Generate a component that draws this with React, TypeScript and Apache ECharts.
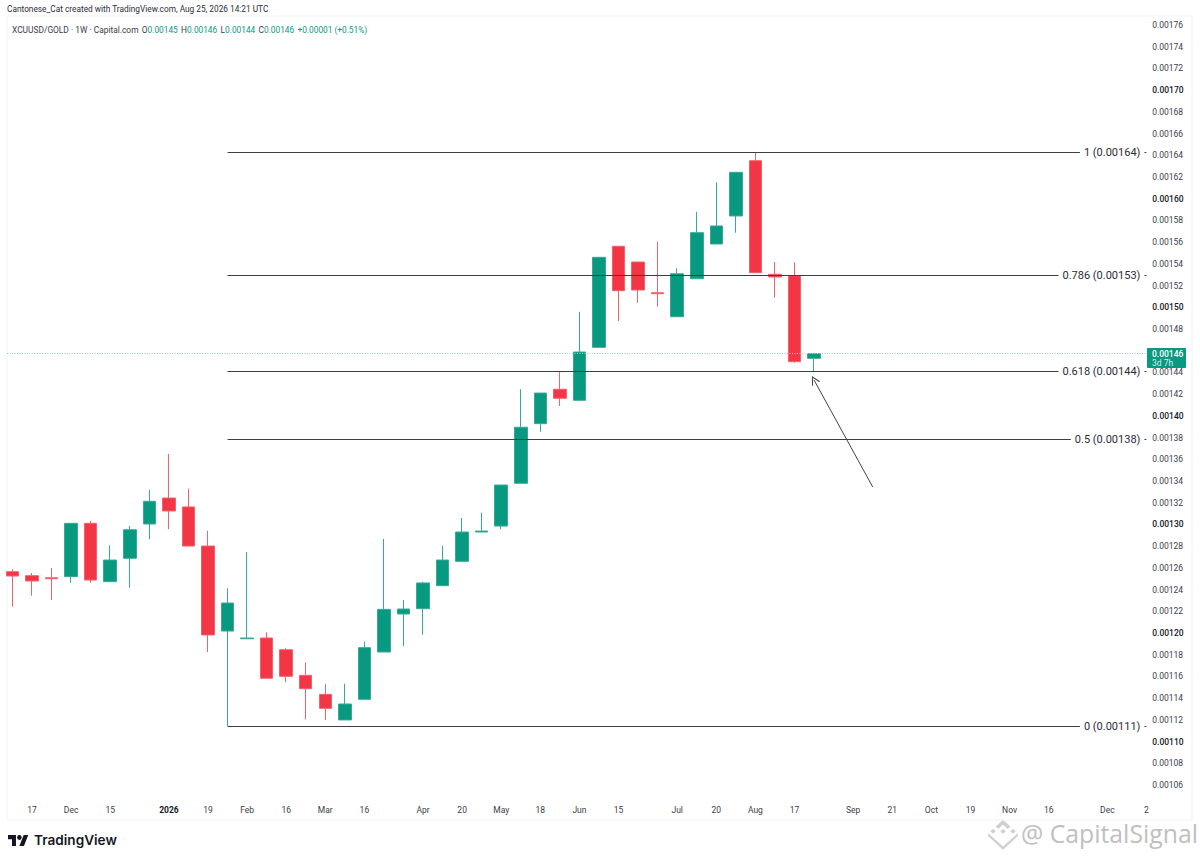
import React, { useEffect, useRef } from "react";
import * as echarts from "echarts";

const FONT = "Roboto, 'Noto Sans', sans-serif";
const GREEN = "#089981";
const RED = "#F23645";

const opens = [0.0012565,0.0012528,0.0012509,0.0012519,0.001301,0.0012473,0.0012688,0.0013004,0.0013243,0.0013161,0.0012801,0.0012018,0.0011947,0.0011954,0.0011846,0.001161,0.0011435,0.0011199,0.0011389,0.0011825,0.0012175,0.0012224,0.0012436,0.001266,0.001293,0.0012985,0.0013379,0.0013928,0.0014245,0.0014143,0.0014631,0.0015562,0.0015417,0.0015134,0.0014913,0.0015263,0.0015583,0.0015841,0.001635,0.0015304,0.0015291,0.001453];
const closes = [0.0012525,0.0012479,0.00125,0.001301,0.0012488,0.0012672,0.0012951,0.0013213,0.0013124,0.0012801,0.0011982,0.0012276,0.0011954,0.0011583,0.0011601,0.0011487,0.0011306,0.0011346,0.0011865,0.0012218,0.0012221,0.0012461,0.0012672,0.001293,0.0012939,0.0013363,0.0013895,0.001421,0.0014162,0.0014588,0.001546,0.0015153,0.0015159,0.0015125,0.0015309,0.0015687,0.0015749,0.0016243,0.0015319,0.0015279,0.0014499,0.0014573];
const lows = [0.0012242,0.0012344,0.0012304,0.0012463,0.0012463,0.0012473,0.0012417,0.0012863,0.0012955,0.0012801,0.0011825,0.0011143,0.0011947,0.0011583,0.0011546,0.0011205,0.0011199,0.0011199,0.0011389,0.0011825,0.001188,0.0011984,0.0012436,0.001266,0.001293,0.0012955,0.0013379,0.0013854,0.0014091,0.0014143,0.0014631,0.0014874,0.0015042,0.0015005,0.0014913,0.0015263,0.0015583,0.0015687,0.0015319,0.0015088,0.001449,0.0014407];
const highs = [0.0012587,0.0012553,0.0012599,0.001301,0.0013034,0.0012808,0.0012985,0.0013317,0.0013649,0.0013329,0.0012942,0.0012412,0.0012746,0.0012006,0.0011859,0.001173,0.0011527,0.0011533,0.001192,0.0012866,0.0012304,0.0012473,0.0012801,0.0013059,0.0013108,0.0013363,0.0014245,0.001421,0.0014407,0.0014959,0.001546,0.0015562,0.0015417,0.0015604,0.0015359,0.001588,0.0016151,0.0016243,0.0016424,0.0015417,0.0015414,0.0014573];

// Week slots on the axis; only some carry a visible label.
const tickLabels: Record<number, string> = {
  1:"17",3:"Dec",5:"15",8:"2026",10:"19",12:"Feb",14:"16",16:"Mar",18:"16",21:"Apr",23:"20",25:"May",27:"18",29:"Jun",31:"15",34:"Jul",36:"20",38:"Aug",40:"17",43:"Sep",45:"21",47:"Oct",49:"19",51:"Nov",53:"16",56:"Dec",58:"2",
};
const SLOT_COUNT = 59;
const categories = Array.from({ length: SLOT_COUNT }, (_, i) => tickLabels[i] ?? "");

const fibRatios = ["1", "0.786", "0.618", "0.5", "0"];
const fibPrices = [0.001643, 0.0015297, 0.0014409, 0.0013784, 0.0011143];
const fibPriceLabels = ["0.00164", "0.00153", "0.00144", "0.00138", "0.00111"];
const FIB_START = 11;
const FIB_END = 58;

const LAST_PRICE = 0.0014573;
const ARROW_FROM: [number, number] = [44, 0.0013345];
const ARROW_TO: [number, number] = [41, 0.001433];

const TV_LOGO = "M14 22H7V11H0V4h14v18zM28 22h-8l7.5-18h8L28 22zM24 8a4 4 0 1 1-8 0a4 4 0 1 1 8 0z";
const WM_LOGO = "M12 0L18 6L15.8 8.2L12 4.4L8.2 8.2L6 6ZM4 8L6.2 10.2L4 12.4L1.8 10.2ZM20 8L22.2 10.2L20 12.4L17.8 10.2ZM12 8L14.2 10.2L12 12.4L9.8 10.2ZM0 12L2.2 14L12 24L21.8 14L24 12L24 14.5L12 27L0 14.5Z";

export default function App() {
  const ref = useRef<HTMLDivElement>(null);
  useEffect(() => {
    document.body.style.margin = "0";
    echarts.graphic.registerShape("tvLogo", echarts.graphic.extendPath(TV_LOGO, {}));
    echarts.graphic.registerShape("wmLogo", echarts.graphic.extendPath(WM_LOGO, {}));
    const chart = echarts.init(ref.current!, undefined, { renderer: "svg" });
    const candles = opens.map((o, i) => [o, closes[i], lows[i], highs[i]]);
    const dotted = { color: "#8ad6c8", width: 1, type: [1, 1.5] };
    chart.setOption({
      animation: false,
      backgroundColor: "#ffffff",
      grid: { left: 2.7, top: 25, width: 1153.5, height: 760, containLabel: false },
      xAxis: {
        type: "category",
        data: categories,
        position: "bottom",
        offset: 16,
        axisLine: { show: false },
        axisTick: { show: false },
        splitLine: { show: false },
        axisLabel: { interval: 0, margin: 4, color: "#3b3e48", fontSize: 8.5, fontFamily: FONT,
          formatter: (v: string) => (v === "2026" ? `{b|${v}}` : v),
          rich: { b: { fontWeight: 700, fontSize: 8.5, color: "#131722", fontFamily: FONT } } },
      },
      yAxis: {
        type: "value",
        position: "right",
        min: 0.00106,
        max: 0.00176,
        interval: 0.00002,
        scale: true,
        axisLine: { show: false },
        axisTick: { show: false },
        splitLine: { show: false },
        axisLabel: {
          margin: -4, color: "#3b3e48", fontSize: 8.5, fontFamily: FONT,
          formatter: (v: number) => {
            const t = v.toFixed(5);
            if (t === "0.00146") return "";
            return Math.round(v * 1e5) % 10 === 0 ? `{b|${t}}` : t;
          },
          rich: { b: { fontWeight: 500, fontSize: 8.5, color: "#131722", fontFamily: FONT } },
        },
      },
      series: [
        {
          type: "candlestick",
          data: candles,
          barWidth: 13,
          clip: false,
          itemStyle: { color: GREEN, color0: RED, borderColor: "#3aa894", borderColor0: "#f4606d", borderWidth: 1 },
          markLine: {
            silent: true,
            symbol: "none",
            animation: false,
            data: [
              ...fibPrices.map((p, i) => [
                { coord: [FIB_START, p], lineStyle: { color: "#3f3f3f", width: 1, type: "solid" },
                  label: { show: true, position: "insideEnd", distance: 2, formatter: `${fibRatios[i]} (${fibPriceLabels[i]})`,
                    backgroundColor: "#fff", color: "#2a2e39", fontSize: 11, fontFamily: FONT, padding: [1, 4] } },
                { coord: [FIB_END, p] },
              ]),
              [
                { x: 7, yAxis: LAST_PRICE, lineStyle: dotted, label: { show: false } },
                { coord: [FIB_END, LAST_PRICE], lineStyle: dotted },
              ],
              [
                { coord: ARROW_FROM, symbol: "none", lineStyle: { color: "#444444", width: 1, type: "solid" }, label: { show: false } },
                { coord: ARROW_TO, symbol: "path://M0,10 L5,0 L10,10 L9,10.6 L5,2.6 L1,10.6 Z", symbolSize: [9, 9] },
              ],
            ],
          },
        },
      ],
      graphic: [
        { type: "rect", silent: true, z: -1, shape: { x: 7, y: 16, width: 1185, height: 804 }, style: { fill: "#fff", stroke: "#f0f3fa", lineWidth: 1 } },
        { type: "text", left: 7, top: 5, style: { text: "Cantonese_Cat created with TradingView.com, Aug 25, 2026 14:21 UTC", fill: "#2a2e39", font: `8.3px ${FONT}` } },
        { type: "text", left: 12, top: 23.5, style: {
            text: "{d|XCUUSD/GOLD · 1W · Capital.com} {d|O}{g|0.00145} {d|H}{g|0.00146} {d|L}{g|0.00144} {d|C}{g|0.00146} {g|+0.00001 (+0.51%)}",
            rich: {
              d: { fill: "#3b3e48", font: `8.4px ${FONT}` },
              g: { fill: GREEN, font: `8.3px ${FONT}` },
            },
          } },
        { type: "rect", shape: { x: 1147, y: 348, width: 39, height: 20, r: 1 }, style: { fill: GREEN }, z: 20 },
        { type: "text", x: 1152, y: 349, z: 21, style: { text: "0.00146", fill: "#fff", font: `500 8.5px ${FONT}` } },
        { type: "text", x: 1152, y: 358.5, z: 21, style: { text: "3d 7h", fill: "#d5efe9", font: `8.5px ${FONT}` } },
        { type: "tvLogo", x: 8, y: 832.6, scaleX: 0.57, scaleY: 0.61, style: { fill: "#131722" } },
        { type: "text", x: 34, y: 832.5, style: { text: "TradingView", fill: "#131722", font: `600 13.6px Inter, ${FONT}` } },
        { type: "wmLogo", x: 988, y: 820, scaleX: 1.25, scaleY: 1.1, style: { fill: "#d0d0d0" } },
        { type: "text", x: 1021, y: 820, style: { text: "@ CapitalSignal", fill: "#c0c0c0", font: `24.8px 'Open Sans', ${FONT}` } },
      ],
    });
    return () => chart.dispose();
  }, []);
  return <div ref={ref} style={{ position: "absolute", left: 0, top: 0, width: 1200, height: 861 }} />;
}
